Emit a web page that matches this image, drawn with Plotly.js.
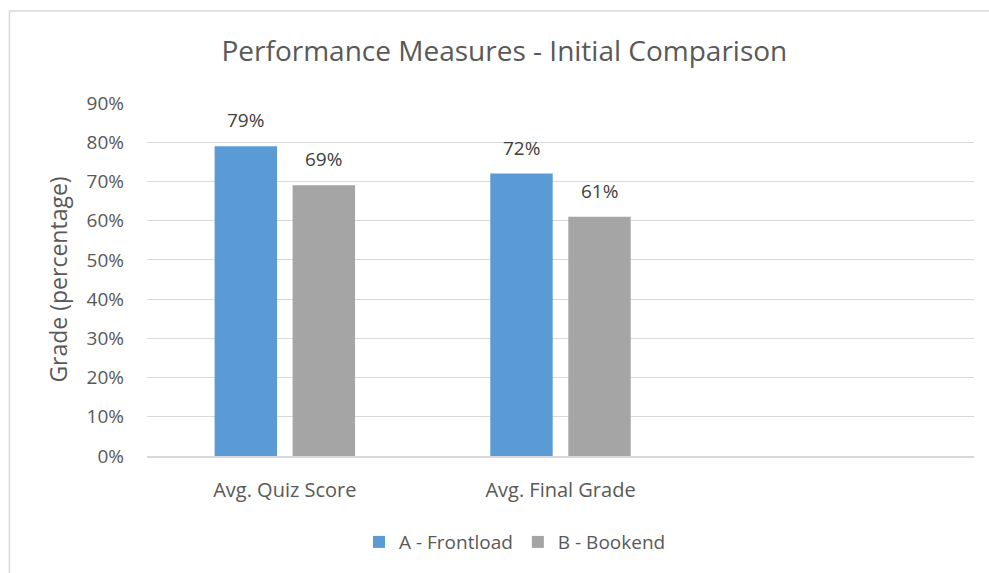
<!DOCTYPE html>
<html>
<head>
<meta charset="utf-8">
<script src="https://cdn.plot.ly/plotly-3.0.1.min.js"></script>
<style>
html,body{margin:0;padding:0;background:#fff;}
#chart{width:989px;height:573px;}
</style>
</head>
<body>
<div id="chart"></div>
<script>
const categories = ["Avg. Quiz Score", "Avg. Final Grade"];
const allCategories = ["Avg. Quiz Score", "Avg. Final Grade", " "];
const seriesNames = ["A - Frontload", "B - Bookend"];
const frontload = [0.79, 0.72];
const bookend = [0.69, 0.61];
const yTicks = [0, 0.1, 0.2, 0.3, 0.4, 0.5, 0.6, 0.7, 0.8, 0.9];
const colors = ["#5B9BD5", "#A5A5A5"];

const FONT = '"Open Sans", "Noto Sans", sans-serif';
const series = [frontload, bookend];

const traces = series.map((vals, i) => ({
  type: 'bar',
  name: seriesNames[i],
  x: categories,
  y: vals,
  marker: {color: colors[i]},
  hoverinfo: 'skip'
}));

const annotations = [];
series.forEach((vals, i) => {
  vals.forEach((v, j) => {
    annotations.push({
      x: categories[j], y: v, xref: 'x', yref: 'y',
      text: Math.round(v * 100) + '%',
      showarrow: false, yanchor: 'bottom',
      xshift: i === 0 ? -39 : 39, yshift: 11,
      font: {family: FONT, size: 19, color: '#404040'}
    });
  });
});

const layout = {
  width: 989, height: 573,
  margin: {l: 147, r: 15, t: 103, b: 115},
  paper_bgcolor: '#fff', plot_bgcolor: '#fff',
  title: {text: 'Performance Measures - Initial Comparison', x: 0.51, xanchor: 'center', y: 0.91, yanchor: 'middle',
          font: {family: FONT, size: 28, color: '#595959'}},
  barmode: 'group', bargap: 0.434, bargroupgap: 0.2,
  xaxis: {type: 'category', categoryorder: 'array', categoryarray: allCategories, range: [-0.5, 2.5],
          showgrid: false, zeroline: false, showline: true, linecolor: '#d9d9d9', linewidth: 1.5,
          ticks: '', ticklabelstandoff: 15, fixedrange: true,
          tickfont: {family: FONT, size: 20, color: '#595959'}},
  yaxis: {range: [0, 0.9], tickvals: yTicks, tickformat: '.0%', showgrid: true, gridcolor: '#d9d9d9', gridwidth: 1,
          zeroline: false, showline: false, ticks: '', ticklabelstandoff: 22, fixedrange: true,
          tickfont: {family: FONT, size: 19, color: '#595959'},
          title: {text: 'Grade (percentage)', standoff: 12, font: {family: FONT, size: 23, color: '#595959'}}},
  showlegend: true,
  legend: {orientation: 'h', x: 0.445, xanchor: 'center', y: -0.19, yanchor: 'top',
           font: {family: FONT, size: 19, color: '#595959'}, itemwidth: 30, tracegroupgap: 0},
  annotations: annotations,
  shapes: [{type: 'rect', xref: 'paper', yref: 'paper', x0: -0.1663, x1: 1.2, y0: -0.6, y1: 1.2606,
            line: {color: '#d9d9d9', width: 1.5}, fillcolor: 'rgba(0,0,0,0)', layer: 'below'}]
};

Plotly.newPlot('chart', traces, layout, {displayModeBar: false, staticPlot: true});
</script>
</body>
</html>
